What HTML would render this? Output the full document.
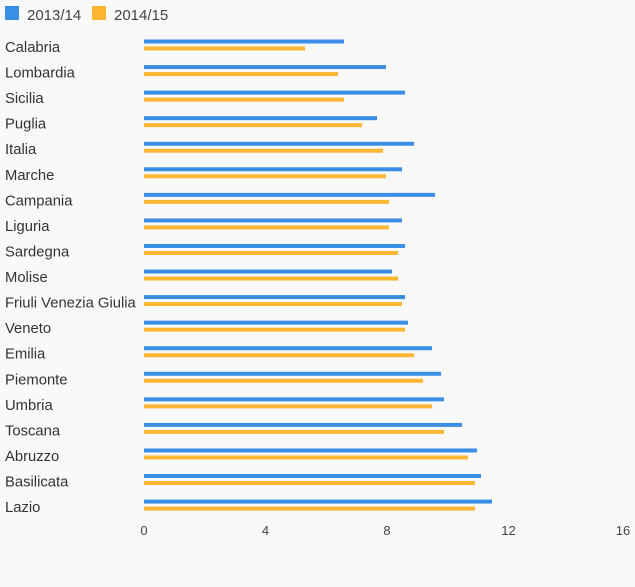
<!DOCTYPE html>
<html><head><meta charset="utf-8"><style>
body{margin:0;background:#f9f9f9;}
svg{display:block;font-family:"Liberation Sans",sans-serif;}
</style></head><body>
<svg width="635" height="587" xmlns="http://www.w3.org/2000/svg">
<rect width="635" height="587" fill="#f9f9f9"/>
<rect x="5" y="6" width="14" height="14" fill="#3a8ee6"/>
<text x="27" y="20" font-size="15" fill="#444">2013/14</text>
<rect x="92" y="6" width="14" height="14" fill="#ffb733"/>
<text x="114" y="20" font-size="15" fill="#444">2014/15</text>
<g id="bars"></g>
<g font-size="13" fill="#444" text-anchor="middle">
<text x="144" y="535">0</text><text x="265.5" y="535">4</text><text x="387" y="535">8</text><text x="508.5" y="535">12</text><text x="623" y="535">16</text>
</g>
</svg>
<script>
var d=[["Calabria",344,305],["Lombardia",386,338],["Sicilia",405,344],["Puglia",377,362],["Italia",414,383],["Marche",402,386],["Campania",435,389],["Liguria",402,389],["Sardegna",405,398],["Molise",392,398],["Friuli Venezia Giulia",405,402],["Veneto",408,405],["Emilia",432,414],["Piemonte",441,423],["Umbria",444,432],["Toscana",462,444],["Abruzzo",477,468],["Basilicata",481,475],["Lazio",492,475]];
var g=document.getElementById("bars"),s="";
d.forEach(function(r,i){var y=39.5+25.56*i;
s+='<text x="5" y="'+(y+12.5)+'" font-size="14.8" fill="#333">'+r[0]+'</text>';
s+='<rect x="144" y="'+y+'" width="'+(r[1]-144)+'" height="4" fill="#3a8ee6"/>';
s+='<rect x="144" y="'+(y+7)+'" width="'+(r[2]-144)+'" height="4" fill="#ffb733"/>';});
g.innerHTML=s;
</script>
</body></html>
